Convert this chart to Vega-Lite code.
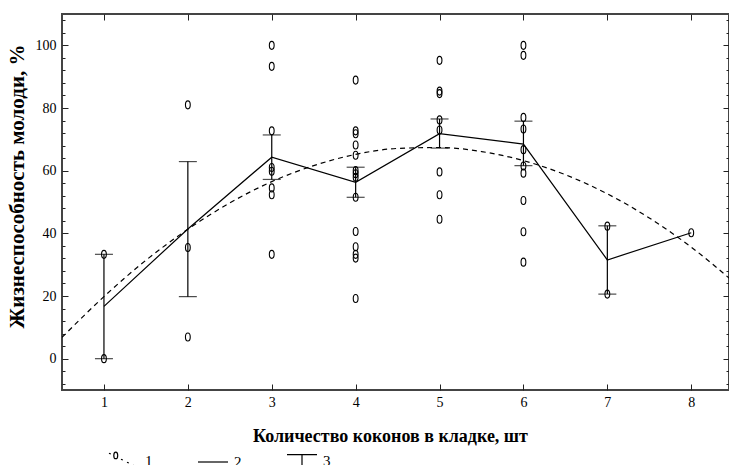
{
  "$schema": "https://vega.github.io/schema/vega-lite/v6.json",
  "width": 667,
  "height": 376,
  "autosize": {"type": "none"},
  "padding": {"left": 62, "top": 14, "right": 0, "bottom": 75},
  "background": "white",
  "config": {
    "view": {"stroke": "#444", "strokeWidth": 2},
    "font": "Liberation Serif",
    "axis": {"grid": false, "domain": false, "tickColor": "#222", "tickWidth": 1, "labelFont": "Liberation Serif", "labelFontSize": 14, "labelColor": "black", "labelOverlap": false, "labelFlush": false, "titleFont": "Liberation Serif", "titleFontWeight": "bold", "titleColor": "black"},
    "axisX": {"format": "d", "tickSize": -6, "labelPadding": 11, "titleFontSize": 18, "titleX": 328, "titleY": 37, "titleBaseline": "top"},
    "axisY": {"format": "d", "tickSize": -6, "labelPadding": 12, "titleFontSize": 21, "titleX": -35, "titleY": 172, "titleAngle": 270, "titleBaseline": "bottom"}
  },
  "datasets": {
    "pts": [
      {"x": 1, "y": 33.3}, {"x": 1, "y": 0},
      {"x": 2, "y": 81.0}, {"x": 2, "y": 35.5}, {"x": 2, "y": 6.9},
      {"x": 3, "y": 100}, {"x": 3, "y": 93.3}, {"x": 3, "y": 72.7}, {"x": 3, "y": 61}, {"x": 3, "y": 59.8}, {"x": 3, "y": 54.5}, {"x": 3, "y": 52.3}, {"x": 3, "y": 33.3},
      {"x": 4, "y": 88.9}, {"x": 4, "y": 72.7}, {"x": 4, "y": 71.8}, {"x": 4, "y": 68.2}, {"x": 4, "y": 64.9}, {"x": 4, "y": 60}, {"x": 4, "y": 59}, {"x": 4, "y": 57.9}, {"x": 4, "y": 51.5}, {"x": 4, "y": 40.6}, {"x": 4, "y": 35.7}, {"x": 4, "y": 33.3}, {"x": 4, "y": 32.1}, {"x": 4, "y": 19.2},
      {"x": 5, "y": 95.2}, {"x": 5, "y": 85.4}, {"x": 5, "y": 84.6}, {"x": 5, "y": 76.2}, {"x": 5, "y": 73}, {"x": 5, "y": 59.6}, {"x": 5, "y": 52.3}, {"x": 5, "y": 44.5},
      {"x": 6, "y": 100}, {"x": 6, "y": 96.8}, {"x": 6, "y": 77}, {"x": 6, "y": 73.3}, {"x": 6, "y": 66.7}, {"x": 6, "y": 61.5}, {"x": 6, "y": 59.2}, {"x": 6, "y": 50.5}, {"x": 6, "y": 40.5}, {"x": 6, "y": 30.8},
      {"x": 7, "y": 42.3}, {"x": 7, "y": 20.6},
      {"x": 8, "y": 40.2}
    ],
    "means": [
      {"x": 1, "y": 16.7, "lo": 0, "hi": 33.3},
      {"x": 2, "y": 41.4, "lo": 19.8, "hi": 62.9},
      {"x": 3, "y": 64.3, "lo": 57.2, "hi": 71.4},
      {"x": 4, "y": 56.3, "lo": 51.5, "hi": 61.1},
      {"x": 5, "y": 71.8, "lo": 67.2, "hi": 76.5},
      {"x": 6, "y": 68.5, "lo": 61.6, "hi": 75.8},
      {"x": 7, "y": 31.5, "lo": 20.6, "hi": 42.4},
      {"x": 8, "y": 40.2, "lo": null, "hi": null}
    ],
    "curve": [
      {"x": 0.5, "y": 6.8}, {"x": 1, "y": 19.8}, {"x": 1.5, "y": 31.4}, {"x": 2, "y": 41.3}, {"x": 2.5, "y": 49.7},
      {"x": 3, "y": 56.5}, {"x": 3.5, "y": 61.6}, {"x": 4, "y": 65.2}, {"x": 4.5, "y": 67.1}, {"x": 5, "y": 67.4},
      {"x": 5.5, "y": 66.1}, {"x": 6, "y": 63.2}, {"x": 6.5, "y": 58.7}, {"x": 7, "y": 52.6}, {"x": 7.5, "y": 44.9},
      {"x": 8, "y": 35.6}, {"x": 8.5, "y": 24.6}
    ],
    "legend": [{"item": "1"}, {"item": "2"}, {"item": "3"}]
  },
  "layer": [
    {
      "layer": [
        {
          "data": {"name": "curve"},
          "mark": {"type": "line", "color": "black", "strokeWidth": 1.2, "strokeDash": [5, 4], "interpolate": "monotone", "clip": true},
          "encoding": {
            "x": {"field": "x", "type": "quantitative", "title": "Количество коконов в кладке, шт", "axis": {"orient": "bottom", "labelOverlap": false, "values": [1, 2, 3, 4, 5, 6, 7, 8]}},
            "y": {"field": "y", "type": "quantitative", "title": "Жизнеспособность молоди, %", "axis": {"orient": "left", "labelOverlap": false, "values": [-8, -4, 0, 4, 8, 12, 16, 20, 24, 28, 32, 36, 40, 44, 48, 52, 56, 60, 64, 68, 72, 76, 80, 84, 88, 92, 96, 100, 104, 108], "labelExpr": "datum.value % 20 === 0 ? datum.label : ''", "tickDash": {"condition": {"test": "datum.value % 20 !== 0", "value": [3, 20]}, "value": []}}}
          }
        },
        {
          "data": {"name": "means"},
          "mark": {"type": "line", "color": "black", "strokeWidth": 1.2},
          "encoding": {
            "x": {"field": "x", "type": "quantitative", "title": "Количество коконов в кладке, шт", "axis": {"orient": "bottom", "labelOverlap": false, "values": [1, 2, 3, 4, 5, 6, 7, 8]}},
            "y": {"field": "y", "type": "quantitative", "title": "Жизнеспособность молоди, %", "axis": {"orient": "left", "labelOverlap": false, "values": [-8, -4, 0, 4, 8, 12, 16, 20, 24, 28, 32, 36, 40, 44, 48, 52, 56, 60, 64, 68, 72, 76, 80, 84, 88, 92, 96, 100, 104, 108], "labelExpr": "datum.value % 20 === 0 ? datum.label : ''", "tickDash": {"condition": {"test": "datum.value % 20 !== 0", "value": [3, 20]}, "value": []}}}
          }
        },
        {
          "data": {"name": "means"},
          "mark": {"type": "rule", "color": "black", "strokeWidth": 1.2},
          "encoding": {
            "x": {"field": "x", "type": "quantitative", "title": "Количество коконов в кладке, шт", "axis": {"orient": "bottom", "labelOverlap": false, "values": [1, 2, 3, 4, 5, 6, 7, 8]}},
            "y": {"field": "lo", "type": "quantitative", "title": "Жизнеспособность молоди, %", "axis": {"orient": "left", "labelOverlap": false, "values": [-8, -4, 0, 4, 8, 12, 16, 20, 24, 28, 32, 36, 40, 44, 48, 52, 56, 60, 64, 68, 72, 76, 80, 84, 88, 92, 96, 100, 104, 108], "labelExpr": "datum.value % 20 === 0 ? datum.label : ''", "tickDash": {"condition": {"test": "datum.value % 20 !== 0", "value": [3, 20]}, "value": []}}},
            "y2": {"field": "hi"}
          }
        },
        {
          "data": {"name": "means"},
          "mark": {"type": "tick", "orient": "horizontal", "color": "black", "size": 18, "thickness": 1.2},
          "encoding": {
            "x": {"field": "x", "type": "quantitative", "title": "Количество коконов в кладке, шт", "axis": {"orient": "bottom", "labelOverlap": false, "values": [1, 2, 3, 4, 5, 6, 7, 8]}},
            "y": {"field": "lo", "type": "quantitative", "title": "Жизнеспособность молоди, %", "axis": {"orient": "left", "labelOverlap": false, "values": [-8, -4, 0, 4, 8, 12, 16, 20, 24, 28, 32, 36, 40, 44, 48, 52, 56, 60, 64, 68, 72, 76, 80, 84, 88, 92, 96, 100, 104, 108], "labelExpr": "datum.value % 20 === 0 ? datum.label : ''", "tickDash": {"condition": {"test": "datum.value % 20 !== 0", "value": [3, 20]}, "value": []}}}
          }
        },
        {
          "data": {"name": "means"},
          "mark": {"type": "tick", "orient": "horizontal", "color": "black", "size": 18, "thickness": 1.2},
          "encoding": {
            "x": {"field": "x", "type": "quantitative", "title": "Количество коконов в кладке, шт", "axis": {"orient": "bottom", "labelOverlap": false, "values": [1, 2, 3, 4, 5, 6, 7, 8]}},
            "y": {"field": "hi", "type": "quantitative", "title": "Жизнеспособность молоди, %", "axis": {"orient": "left", "labelOverlap": false, "values": [-8, -4, 0, 4, 8, 12, 16, 20, 24, 28, 32, 36, 40, 44, 48, 52, 56, 60, 64, 68, 72, 76, 80, 84, 88, 92, 96, 100, 104, 108], "labelExpr": "datum.value % 20 === 0 ? datum.label : ''", "tickDash": {"condition": {"test": "datum.value % 20 !== 0", "value": [3, 20]}, "value": []}}}
          }
        },
        {
          "data": {"name": "pts"},
          "mark": {"type": "point", "shape": "M0,-1A0.6,1 0 1,1 0,1A0.6,1 0 1,1 0,-1Z", "size": 64, "filled": false, "stroke": "black", "strokeWidth": 1.1, "opacity": 1},
          "encoding": {
            "x": {
              "field": "x", "type": "quantitative",
              "scale": {"domain": [0.5, 8.45], "nice": false, "zero": false},
              "title": "Количество коконов в кладке, шт",
              "axis": {"orient": "bottom", "labelOverlap": false, "values": [1, 2, 3, 4, 5, 6, 7, 8]}
            },
            "y": {
              "field": "y", "type": "quantitative",
              "scale": {"domain": [-10, 110], "nice": false, "zero": false},
              "title": "Жизнеспособность молоди, %",
              "axis": {"orient": "left", "labelOverlap": false, "values": [-8, -4, 0, 4, 8, 12, 16, 20, 24, 28, 32, 36, 40, 44, 48, 52, 56, 60, 64, 68, 72, 76, 80, 84, 88, 92, 96, 100, 104, 108], "labelExpr": "datum.value % 20 === 0 ? datum.label : ''", "tickDash": {"condition": {"test": "datum.value % 20 !== 0", "value": [3, 20]}, "value": []}}
            }
          }
        },
        {
          "data": {"name": "legend"},
          "mark": {"type": "point", "filled": false, "opacity": 0},
          "encoding": {
            "shape": {
              "field": "item", "type": "nominal",
              "scale": {
                "domain": ["1", "2", "3"],
                "range": [
                  "M-1,-0.55L-0.88,-0.49M-0.2,-0.15L-0.08,-0.09M0.2,0.05L0.32,0.11M0.6,0.25L0.72,0.31M0.88,0.39L1,0.45M-0.55,-0.62A0.13,0.22 0 1,1 -0.55,-0.18A0.13,0.22 0 1,1 -0.55,-0.62",
                  "M-1,0H1",
                  "M-1,-0.45H1M0,-0.45V0.45M-1,0.45H1"
                ]
              },
              "legend": {
                "orient": "none", "legendX": 46, "legendY": 431, "direction": "horizontal", "title": null,
                "symbolSize": 900, "symbolStrokeWidth": 1.2, "symbolStrokeColor": "black", "symbolFillColor": "transparent", "symbolOpacity": 1,
                "labelFont": "Liberation Serif", "labelFontSize": 15, "labelColor": "black", "labelOffset": 5, "columnPadding": 42, "padding": 0
              }
            }
          }
        }
      ]
    },
    {
      "data": {"name": "means"},
      "mark": {"type": "point", "opacity": 0},
      "encoding": {
        "x": {
          "field": "x", "type": "quantitative",
          "axis": {"orient": "top", "values": [1, 2, 3, 4, 5, 6, 7, 8], "labels": false, "title": null}
        },
        "y": {
          "field": "y", "type": "quantitative",
          "axis": {
            "orient": "right",
            "values": [-8, -4, 0, 4, 8, 12, 16, 20, 24, 28, 32, 36, 40, 44, 48, 52, 56, 60, 64, 68, 72, 76, 80, 84, 88, 92, 96, 100, 104, 108],
            "tickDash": {"condition": {"test": "datum.value % 20 !== 0", "value": [3, 20]}, "value": []},
            "labels": false, "title": null
          }
        }
      }
    }
  ],
  "resolve": {"axis": {"x": "independent", "y": "independent"}}
}
